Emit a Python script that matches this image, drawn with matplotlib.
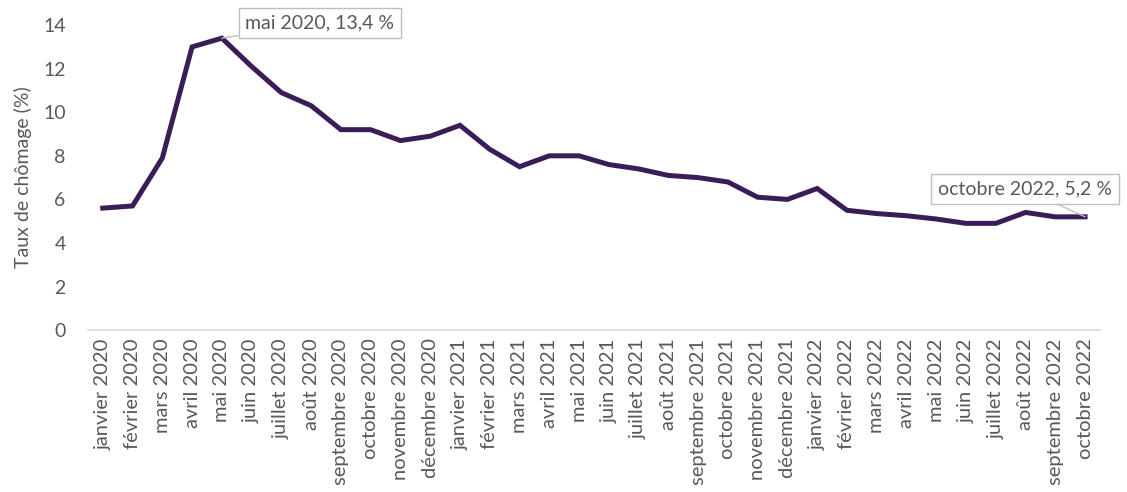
import numpy as np
import matplotlib
matplotlib.use("Agg")
import matplotlib.pyplot as plt

# Données : taux de chômage mensuel (%)
mois = ["janvier", "février", "mars", "avril", "mai", "juin", "juillet", "août",
        "septembre", "octobre", "novembre", "décembre"]
annees = [2020, 2021, 2022]
labels = [f"{m} {a}" for a in annees for m in mois][:34]
taux = [5.6, 5.7, 7.9, 13.0, 13.4, 12.1, 10.9, 10.3, 9.2, 9.2, 8.7, 8.9,
        9.4, 8.3, 7.5, 8.0, 8.0, 7.6, 7.4, 7.1, 7.0, 6.8, 6.1, 6.0,
        6.5, 5.5, 5.35, 5.25, 5.1, 4.9, 4.9, 5.4, 5.2, 5.2]

gris = "#595959"
violet = "#3b1c58"
plt.rcParams['font.family'] = ['Lato', 'DejaVu Sans']

fig = plt.figure(figsize=(11.27, 4.92), dpi=100)
ax = fig.add_axes([0.078, 0.329, 0.898, 0.62])

x = np.arange(len(taux))
ax.plot(x, taux, color=violet, lw=3.6, solid_joinstyle='miter', clip_on=False, zorder=3)

ax.set_xlim(-0.5, len(taux) - 0.5)
ax.set_ylim(0, 14)
ax.set_yticks(np.arange(0, 15, 2))
ax.set_xticks(x)
ax.set_xticklabels(labels, rotation=90, fontsize=14.5, color=gris)
ax.tick_params(axis='y', labelsize=14, colors=gris, length=0, pad=16)
ax.tick_params(axis='x', length=0, pad=6)
ax.set_ylabel("Taux de chômage (%)", fontsize=14, color=gris, labelpad=8)

for s in ["top", "right", "left"]:
    ax.spines[s].set_visible(False)
ax.spines["bottom"].set_color("#d9d9d9")
ax.spines["bottom"].set_linewidth(1.2)

# Étiquettes de données
boite = dict(boxstyle="square,pad=0.35", fc="white", ec="#bfbfbf", lw=1)
fleche = dict(arrowstyle="-", color="#bfbfbf", lw=1, shrinkA=0, shrinkB=0)
i_max = int(np.argmax(taux))
ax.annotate(f"{labels[i_max]}, {taux[i_max]:.1f} %".replace(".", ","),
            xy=(x[i_max], taux[i_max]), xytext=(17, 11), textcoords="offset points",
            fontsize=14, color=gris, bbox=boite, arrowprops=fleche,
            ha="left", va="center", annotation_clip=False)
i_fin = len(taux) - 1
ax.annotate(f"{labels[i_fin]}, {taux[i_fin]:.1f} %".replace(".", ","),
            xy=(x[i_fin], taux[i_fin]), xytext=(-106, 20), textcoords="offset points",
            fontsize=14, color=gris, bbox=boite, arrowprops=fleche,
            ha="left", va="center", annotation_clip=False)

fig.savefig("out.png", dpi=100)
